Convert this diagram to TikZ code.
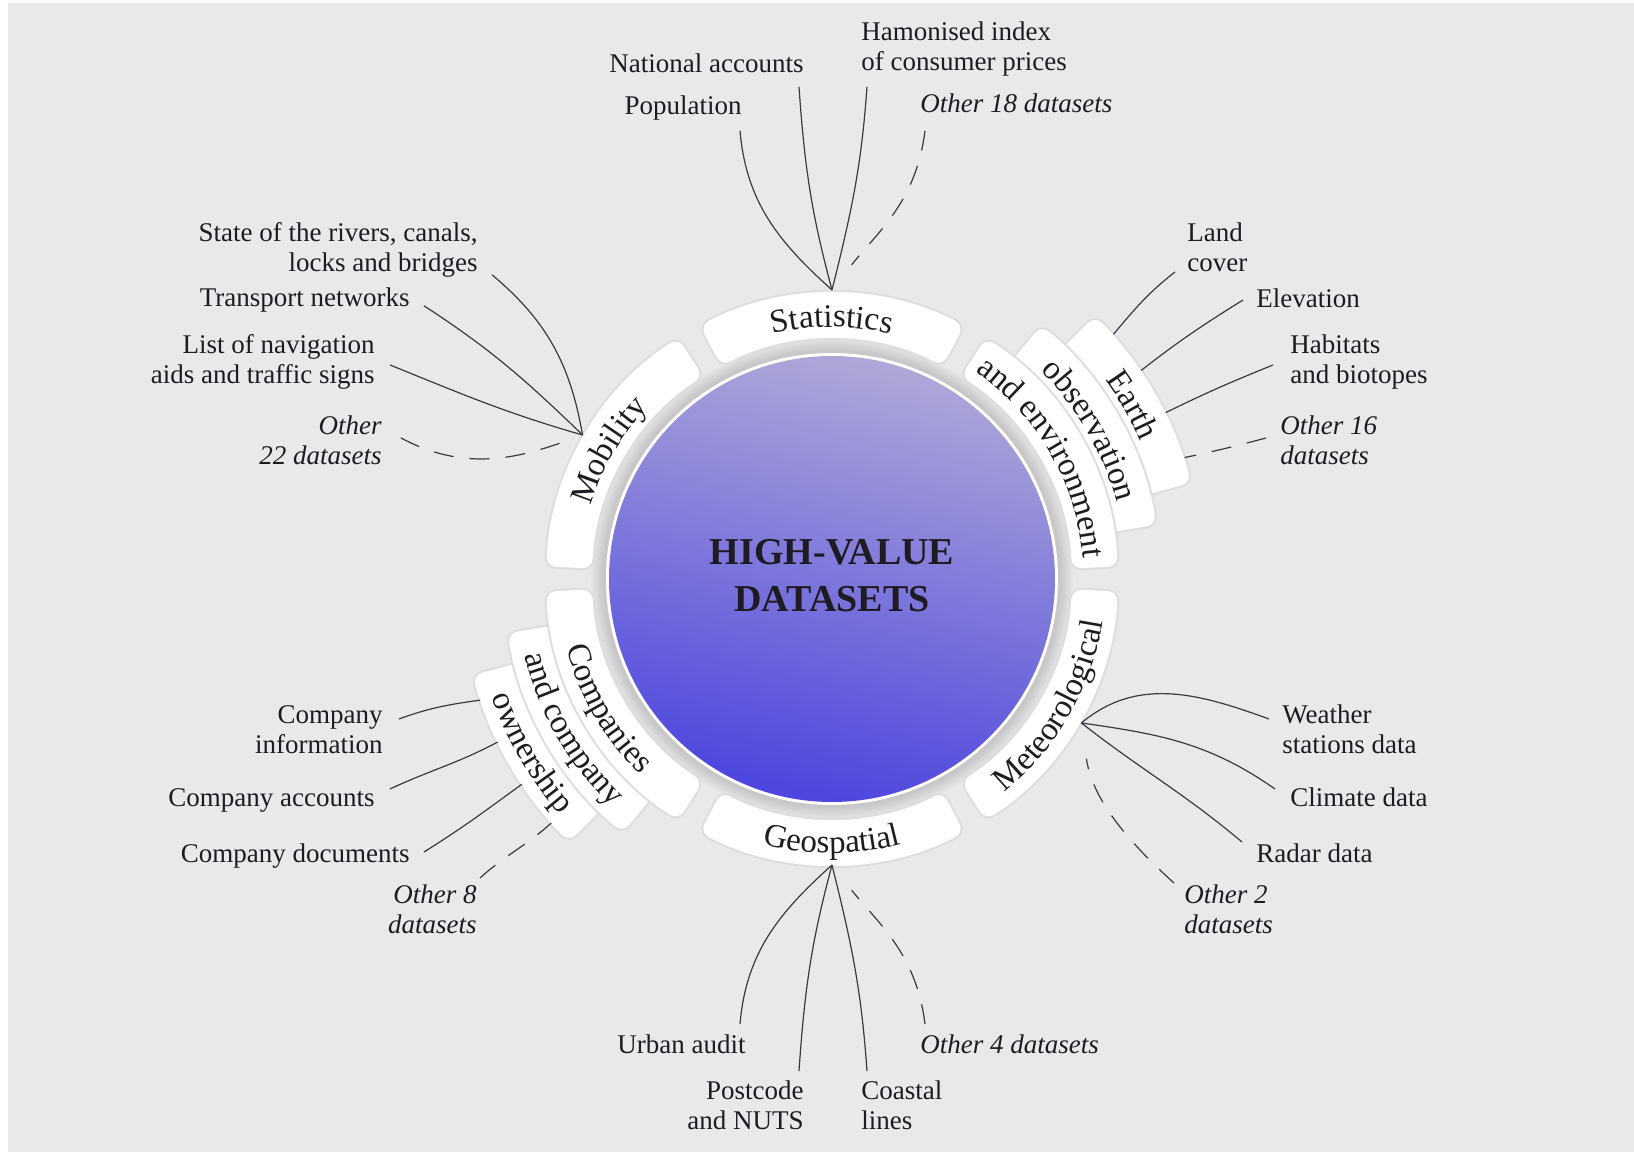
\documentclass[tikz,border=0pt]{standalone}
\usepackage{fontspec}
\setmainfont{Liberation Serif}
\usetikzlibrary{decorations.text}

\definecolor{paper}{HTML}{E9E9EB}
\definecolor{ink}{HTML}{1C1C22}
\definecolor{wire}{HTML}{3A3A40}
\definecolor{lavtop}{HTML}{AEA8D8}
\definecolor{lavmid}{HTML}{9490DC}
\definecolor{violetlow}{HTML}{4C45DF}
\definecolor{cardedge}{HTML}{DDDDE0}

\newcommand\lblfont{\fontsize{13.5}{15}\selectfont}
\newcommand\bandfont{\fontsize{16.5}{19}\selectfont}
\newcommand\corefont{\fontsize{19}{23.5}\selectfont\bfseries}

% white card shaped as a ring sector: from angle, to angle, inner radius, outer radius
\newcommand\hvcard[4]{%
  \path[card] (#1:#3) arc[start angle=#1, end angle=#2, radius=#3]
    -- (#2:#4) arc[start angle=#2, end angle=#1, radius=#4] -- cycle;}
% curved caption on a card: from angle, to angle, baseline radius, text
\newcommand\hvtext[4]{%
  \path[decorate, decoration={text along path, text align=center,
    text color=ink, text={|\bandfont|#4}}]
    (#1:#3) arc[start angle=#1, end angle=#2, radius=#3];}

\begin{document}
\begin{tikzpicture}[x=0.5pt, y=0.5pt,
  card/.style={fill=white, rounded corners=5pt,
    preaction={draw=cardedge, line width=2pt}},
  lbl/.style={font=\lblfont, text=ink, inner sep=0pt},
  it/.style={font=\lblfont\itshape},
  link/.style={draw=wire, line width=0.6pt},
  dlink/.style={link, dash pattern=on 10pt off 8pt}]

% page and background
\useasboundingbox (-832,-575) rectangle (802,579);
\fill[white] (-832,-575) rectangle (802,579);
\fill[paper] (-824,-573) rectangle (802,576);

% soft halo around the core
\foreach \k in {0,...,6}
  \fill[black, opacity=0.018] (0,0) circle ({241-2*\k});

% core disc
\fill[white] (0,0) circle (226);
\shade[top color=lavtop, middle color=lavmid, bottom color=violetlow,
  shading angle=-12] (0,0) circle (223);
\node[font=\corefont, text=ink, align=center, inner sep=0pt] (core) at (0,0)
  {\strut HIGH-VALUE\\\strut DATASETS};

% category cards (outer layers first)
\hvcard{62.5}{117.5}{240}{286}
\hvcard{122.5}{177.5}{240}{286}
\hvcard{15}{45}{240}{372}
\hvcard{9.5}{50.5}{240}{329}
\hvcard{2.5}{57.5}{240}{286}
\hvcard{-57.5}{-2.5}{240}{286}
\hvcard{242.5}{297.5}{240}{286}
\hvcard{195}{225}{240}{372}
\hvcard{189.5}{230.5}{240}{329}
\hvcard{182.5}{237.5}{240}{286}

% category captions
\hvtext{117.5}{62.5}{252}{Statistics}
\hvtext{177.5}{122.5}{252}{Mobility}
\hvtext{45}{15}{338}{Earth}
\hvtext{50.5}{9.5}{295}{observation}
\hvtext{57.5}{2.5}{252}{and environment}
\hvtext{-57.5}{-2.5}{274}{Meteorological}
\hvtext{242.5}{297.5}{274}{Geospatial}
\hvtext{182.5}{237.5}{274}{Companies}
\hvtext{189.5}{230.5}{317}{and company}
\hvtext{195}{225}{360}{ownership}

% hubs and card attachment points
\coordinate (statHub) at (90:289);
\coordinate (mobHub) at (150:288);
\coordinate (metHub) at (-30:288);
\coordinate (geoHub) at (-90:286);
\coordinate (eLand) at (41:373);
\coordinate (eElev) at (34:373);
\coordinate (eHabit) at (26.5:373);
\coordinate (eMore) at (19:373);
\coordinate (cInfo) at (199:372);
\coordinate (cAcc) at (206:372);
\coordinate (cDocs) at (213.5:372);
\coordinate (cMore) at (221:372);

% Statistics datasets
\node[lbl, anchor=north west, align=left] (hamon) at (29,560)
  {\strut Hamonised index\\\strut of consumer prices};
\node[lbl, anchor=north east] (natacc) at (-28,528) {\strut National accounts};
\node[lbl, anchor=north east] (pop) at (-90,486) {\strut Population};
\node[lbl, it, anchor=north west] (oth18) at (88,488) {\strut Other 18 datasets};

% Mobility datasets
\node[lbl, anchor=north east, align=right] (rivers) at (-354,359)
  {\strut State of the rivers, canals,\\\strut locks and bridges};
\node[lbl, anchor=north east] (transport) at (-422,294) {\strut Transport networks};
\node[lbl, anchor=north east, align=right] (navig) at (-457,247)
  {\strut List of navigation\\\strut aids and traffic signs};
\node[lbl, it, anchor=north east, align=right] (oth22) at (-450,166)
  {\strut Other\\\strut 22 datasets};

% Earth observation datasets
\node[lbl, anchor=north west, align=left] (land) at (355,359) {\strut Land\\\strut cover};
\node[lbl, anchor=north west] (elev) at (424,293) {\strut Elevation};
\node[lbl, anchor=north west, align=left] (habit) at (458,247)
  {\strut Habitats\\\strut and biotopes};
\node[lbl, it, anchor=north west, align=left] (oth16) at (448,166)
  {\strut Other 16\\\strut datasets};

% Meteorological datasets
\node[lbl, anchor=north west, align=left] (weather) at (450,-123)
  {\strut Weather\\\strut stations data};
\node[lbl, anchor=north west] (climate) at (458,-206) {\strut Climate data};
\node[lbl, anchor=north west] (radar) at (424,-262) {\strut Radar data};
\node[lbl, it, anchor=north west, align=left] (oth2) at (352,-303)
  {\strut Other 2\\\strut datasets};

% Geospatial datasets
\node[lbl, anchor=north east] (urban) at (-86,-453) {\strut Urban audit};
\node[lbl, anchor=north east, align=right] (postcode) at (-28,-499)
  {\strut Postcode\\\strut and NUTS};
\node[lbl, anchor=north west, align=left] (coastal) at (29,-499)
  {\strut Coastal\\\strut lines};
\node[lbl, it, anchor=north west] (oth4) at (88,-453) {\strut Other 4 datasets};

% Company datasets
\node[lbl, anchor=north east, align=right] (cinfoL) at (-449,-123)
  {\strut Company\\\strut information};
\node[lbl, anchor=north east] (caccL) at (-457,-206) {\strut Company accounts};
\node[lbl, anchor=north east] (cdocsL) at (-422,-262) {\strut Company documents};
\node[lbl, it, anchor=north east, align=right] (oth8) at (-355,-303)
  {\strut Other 8\\\strut datasets};

% connectors: Statistics
\draw[link] ([shift={(-2,-7)}]pop.south east) to[out=-85, in=138] (statHub);
\draw[link] ([shift={(-5,-5)}]natacc.south east) to[out=-86, in=105] (statHub);
\draw[link] ([shift={(6,-7)}]hamon.south west) to[out=-94, in=76] (statHub);
\draw[dlink, shorten >=16] ([shift={(5,-9)}]oth18.south west) to[out=-97, in=52] (statHub);

% connectors: Mobility
\draw[link] ([shift={(14,6)}]rivers.south east) to[out=-40, in=100] (mobHub);
\draw[link] ([shift={(14,10)}]transport.south east) to[out=-33, in=136] (mobHub);
\draw[link] ([shift={(15,-33)}]navig.north east) to[out=-22, in=164] (mobHub);
\draw[dlink, shorten >=8] ([shift={(19,-25)}]oth22.north east) to[out=-28, in=200] (mobHub);

% connectors: Earth observation
\draw[link] ([shift={(-12,-52)}]land.north west) to[out=218, in=50] (eLand);
\draw[link] ([shift={(-13,-14)}]elev.north west) to[out=212, in=38] (eElev);
\draw[link] ([shift={(-17,-33)}]habit.north west) to[out=202, in=26] (eHabit);
\draw[dlink] ([shift={(-14,-25)}]oth16.north west) to[out=195, in=12] (eMore);

% connectors: Meteorological
\draw[link] ([shift={(-13,-17)}]weather.north west) to[out=160, in=40] (metHub);
\draw[link] ([shift={(-15,-4)}]climate.north west) to[out=145, in=-8] (metHub);
\draw[link] ([shift={(-14,-1)}]radar.north west) to[out=140, in=-38] (metHub);
\draw[dlink, shorten >=18] ([shift={(-10,-1)}]oth2.north west) to[out=138, in=-82] (metHub);

% connectors: Geospatial
\draw[link] ([shift={(-6,8)}]urban.north east) to[out=85, in=-138] (geoHub);
\draw[link] ([shift={(-5,7)}]postcode.north east) to[out=86, in=-105] (geoHub);
\draw[link] ([shift={(6,7)}]coastal.north west) to[out=94, in=-76] (geoHub);
\draw[dlink, shorten >=16] ([shift={(5,8)}]oth4.north west) to[out=97, in=-52] (geoHub);

% connectors: Companies
\draw[link] ([shift={(16,-17)}]cinfoL.north east) to[out=20, in=188] (cInfo);
\draw[link] ([shift={(15,-4)}]caccL.north east) to[out=25, in=208] (cAcc);
\draw[link] ([shift={(14,-11)}]cdocsL.north east) to[out=32, in=216] (cDocs);
\draw[dlink] ([shift={(3,4)}]oth8.north east) to[out=42, in=222] (cMore);
\end{tikzpicture}
\end{document}
